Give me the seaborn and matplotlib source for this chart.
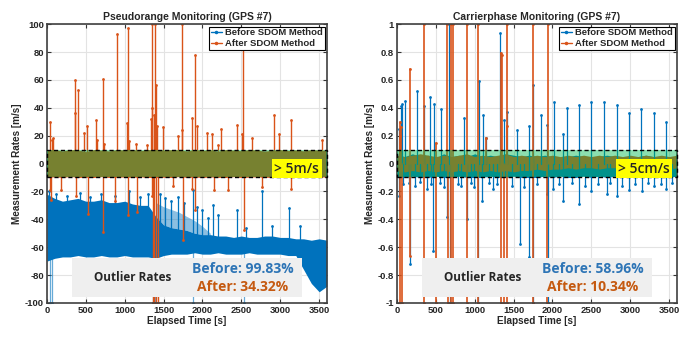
import numpy as np
import pandas as pd
import matplotlib
matplotlib.use("Agg")
import matplotlib.pyplot as plt
from matplotlib.patches import Rectangle
from matplotlib.lines import Line2D
import seaborn as sns

sns.set_style("ticks")
plt.rcParams['font.family'] = ['Liberation Sans', 'DejaVu Sans']

BLUE = '#0072BD'
ORANGE = '#D95319'
SANS2 = ['Open Sans', 'DejaVu Sans']

# ---------------- data: common time grid for dense bands ----------------
band_t = [0, 100, 200, 300, 400, 500, 600, 700, 800, 900, 1000, 1100, 1200,
          1300, 1400, 1500, 1600, 1700, 1800, 1900, 2000, 2100, 2200, 2300,
          2400, 2500, 2600, 2700, 2800, 2900, 3000, 3100, 3200, 3300, 3400,
          3500, 3600]

# ---------------- Pseudorange panel ----------------
pr_after_hi = [9.5, 10, 9, 10, 9.8, 8.5, 10, 9.6, 9, 10, 9.7, 10, 9.2, 10, 10,
               9.5, 10, 9.8, 9, 10, 9.4, 9.9, 8.8, 10, 9.6, 9.2, 10, 9.7, 8.9,
               9.5, 10, 9.3, 9.8, 9.1, 10, 9.6, 9.4]
pr_after_lo = [-10, -9.5, -10, -9.2, -10, -9.8, -10, -9.4, -10, -9.9, -9.6, -10,
               -9.5, -10, -10, -9.8, -10, -9.3, -10, -9.7, -10, -9.6, -9.9, -10,
               -9.4, -10, -9.8, -9.5, -10, -9.7, -10, -9.2, -10, -9.6, -10, -9.5,
               -9.8]
pr_before_hi = [-22, -25, -27, -26, -25, -27, -27, -26, -28, -28, -27, -29, -30,
                -30, -38, -44, -46, -47, -48, -50, -51, -51, -52, -52, -53, -52,
                -53, -53, -52, -52, -53, -53, -54, -54, -55, -54, -55]
pr_before_lo = [-70, -68, -67, -67, -66, -67, -67, -66, -67, -67, -66, -67, -67,
                -67, -68, -66, -65, -65, -65, -64, -65, -65, -64, -65, -65, -65,
                -64, -65, -65, -65, -65, -66, -66, -76, -86, -92, -88]
pr_sparse_t = [1400, 1500, 1600, 1700, 1800, 1900, 2000, 2100]
pr_sparse_lo = [-38, -44, -46, -47, -48, -50, -51, -51]
pr_sparse_hi = [-28, -31, -33, -35, -38, -41, -45, -50]

pr_before_spk_t = [30, 120, 260, 420, 560, 700, 880, 1050, 1200, 1300, 1450,
                   1520, 1600, 1680, 1760, 1877, 1929, 2000, 2070, 2134, 2200,
                   2443, 2560, 2764, 2900, 3111, 3250]
pr_before_spk_v = [-20, -22, -23, -21, -24, -22, -23, -20, -24, -22, -22, -25,
                   -27, -24, -28, -19, -31, -33, -39, -30, -37, -33, -46, -20,
                   -45, -32, -45]
pr_before_dn_t = [40, 62, 1360, 1395, 1880, 2530]
pr_before_dn_v = [-100, -100, -100, -100, -100, -100]

pr_after_up_t = [39, 60, 75, 355, 360, 403, 476, 520, 630, 645, 720, 730, 896,
                 1025, 1037, 1050, 1150, 1290, 1340, 1350, 1355, 1375, 1390,
                 1400, 1420, 1490, 1690, 1735, 1740, 1870, 1899, 1935, 2060,
                 2120, 2200, 2240, 2450, 2510, 2524, 2640, 2920, 2980, 3140,
                 3540]
pr_after_up_v = [30, 17, 18, 36, 60, 53, 22, 27, 31, 17, 61, 14, 93, 29, 97, 16,
                 14, 13, 32, 40, 100, 35, 100, 56, 27, 26, 20, 24, 100, 33, 78,
                 27, 22, 21, 13, 25, 28, 21, 84, 18, 35, 21, 31, 17]
pr_after_dn_t = [40, 55, 180, 380, 531, 724, 870, 1046, 1160, 1345, 1365, 1380,
                 1400, 1425, 1620, 1744, 1860, 1900, 2150, 2330, 2529, 2760, 3140]
pr_after_dn_v = [-19, -26, -19, -23, -36, -49, -27, -37, -35, -23, -100, -100,
                 -100, -100, -16, -55, -18, -33, -19, -19, -48, -17, -18]

# ---------------- Carrierphase panel ----------------
cp_before_hi = [0.06, 0.05, 0.07, 0.05, 0.06, 0.04, 0.07, 0.05, 0.06, 0.05,
                0.07, 0.05, 0.06, 0.05, 0.07, 0.06, 0.05, 0.06, 0.05, 0.06,
                0.05, 0.04, 0.05, 0.06, 0.05, 0.04, 0.05, 0.06, 0.05, 0.04,
                0.05, 0.05, 0.06, 0.05, 0.04, 0.05, 0.05]
cp_before_lo = [-0.10, -0.10, -0.09, -0.10, -0.10, -0.09, -0.10, -0.10, -0.09,
                -0.10, -0.10, -0.10, -0.09, -0.10, -0.10, -0.09, -0.10, -0.10,
                -0.10, -0.09, -0.10, -0.09, -0.10, -0.10, -0.09, -0.10, -0.09,
                -0.10, -0.09, -0.10, -0.10, -0.09, -0.10, -0.09, -0.10, -0.10,
                -0.09]
cp_after_hi = [0.06, 0.05, 0.06, 0.07, 0.06, 0.05, 0.06, 0.05, 0.06, 0.07, 0.05,
               0.06, 0.05, 0.06, 0.07, 0.05, 0.06, 0.05, 0.06, 0.05, 0.06, 0.05,
               0.06, 0.05, 0.06, 0.05, 0.06, 0.05, 0.06, 0.05, 0.06, 0.05, 0.06,
               0.05, 0.06, 0.05, 0.06]
cp_after_lo = [-0.05, -0.06, -0.05, -0.06, -0.05, -0.06, -0.05, -0.06, -0.05,
               -0.06, -0.05, -0.06, -0.05, -0.06, -0.05, -0.06, -0.05, -0.05,
               -0.04, -0.05, -0.04, -0.04, -0.03, -0.04, -0.03, -0.03, -0.04,
               -0.03, -0.03, -0.04, -0.03, -0.03, -0.04, -0.03, -0.03, -0.04,
               -0.03]

cp_before_up_t = [30, 50, 65, 103, 257, 347, 420, 476, 570, 669, 861, 1050,
                  1101, 1150, 1324, 1380, 1410, 1539, 1694, 1744, 1851, 1925,
                  2019, 2130, 2181, 2340, 2498, 2661, 2824, 2979, 3141, 3304,
                  3459]
cp_before_up_v = [0.25, 0.41, 0.43, 0.45, 0.52, 0.41, 0.48, 0.43, 0.39, 1.0,
                  0.33, 0.59, 0.35, 0.18, 0.94, 0.31, 0.37, 0.24, 0.27, 0.56,
                  0.35, 0.28, 0.44, 0.21, 0.40, 0.42, 0.44, 0.44, 0.42, 0.36,
                  0.39, 0.36, 0.30]
cp_before_dn_t = [26, 80, 150, 170, 230, 300, 390, 440, 463, 560, 600, 645, 680,
                  780, 830, 903, 950, 990, 1040, 1100, 1180, 1230, 1290, 1480,
                  1581, 1640, 1700, 1750, 1800, 1925, 1940, 2010, 2080, 2140,
                  2250, 2344, 2420, 2500, 2580, 2696, 2740, 2825, 2900, 2980,
                  3060, 3150, 3230, 3300, 3390, 3460, 3540]
cp_before_dn_v = [-0.23, -0.15, -0.14, -0.72, -0.16, -0.13, -0.18, -0.15, -0.63,
                  -0.14, -0.17, -0.38, -1.0, -0.15, -0.16, -0.40, -0.14, -0.17,
                  -1.0, -0.27, -0.14, -0.18, -0.15, -0.16, -0.58, -0.17, -0.67,
                  -1.0, -0.15, -0.22, -1.0, -0.18, -0.15, -0.27, -0.14, -0.29,
                  -0.16, -0.20, -0.15, -0.22, -0.14, -0.23, -0.16, -0.19, -0.15,
                  -0.20, -0.14, -0.16, -0.15, -0.18, -0.14]

cp_after_up_t = [35, 45, 55, 167, 347, 500, 650, 690, 720, 896, 1037, 1150,
                 1337, 1350, 1410, 1420, 1744, 1937]
cp_after_up_v = [0.20, 0.30, 0.26, 0.68, 1.0, 0.15, 1.0, 1.0, 1.0, 1.0, 1.0, 0.18,
                 0.79, 0.78, 1.0, 0.27, 1.0, 1.0]
cp_after_dn_t = [39, 60, 171, 347, 501, 660, 700, 720, 896, 1037, 1333, 1380,
                 1410, 1744, 1925]
cp_after_dn_v = [-1.0, -1.0, -0.66, -1.0, -1.0, -1.0, -1.0, -1.0, -1.0, -1.0,
                 -1.0, -1.0, -1.0, -1.0, -1.0]

labels = ['Before SDOM Method', 'After SDOM Method']
titles = ['Pseudorange Monitoring (GPS #7)', 'Carrierphase Monitoring (GPS #7)']
rates_before = ['Before: 99.83%', 'Before: 58.96%']
rates_after = ['After: 34.32%', 'After: 10.34%']
thresh_labels = ['> 5m/s', '> 5cm/s']
x_ticks = [0, 500, 1000, 1500, 2000, 2500, 3000, 3500]


def spikes(ax, ts, vs, base, color, lw=1.0, alpha=1.0):
    rows = []
    for i, (t, v) in enumerate(zip(ts, vs)):
        rows.append((i, t, base))
        rows.append((i, t, v))
    df = pd.DataFrame(rows, columns=['id', 't', 'v'])
    sns.lineplot(data=df, x='t', y='v', units='id', estimator=None, sort=False,
                 color=color, lw=lw, alpha=alpha, ax=ax, zorder=2, legend=False)
    tips = pd.DataFrame({'t': ts, 'v': vs})
    sns.scatterplot(data=tips, x='t', y='v', color=color, s=4, linewidth=0,
                    ax=ax, zorder=2, legend=False)


fig = plt.figure(figsize=(7, 3.4), dpi=100)
axL = fig.add_axes([0.067, 0.109, 0.4, 0.82])
axR = fig.add_axes([0.567, 0.109, 0.4, 0.82])

# ---- left ----
ax = axL
ax.fill_between(band_t, pr_before_lo, pr_before_hi, color=BLUE, lw=0, zorder=1)
ax.fill_between(pr_sparse_t, pr_sparse_lo, pr_sparse_hi,
                color=BLUE, alpha=0.45, lw=0, zorder=1)
spikes(ax, pr_before_spk_t, pr_before_spk_v, -55, BLUE, lw=0.9)
spikes(ax, pr_before_dn_t, pr_before_dn_v, -60, BLUE, lw=0.9, alpha=0.6)
ax.fill_between(band_t, pr_after_lo, pr_after_hi, color=ORANGE, lw=0, zorder=1.5)
spikes(ax, pr_after_up_t, pr_after_up_v, 0, ORANGE, lw=1.0)
spikes(ax, pr_after_dn_t, pr_after_dn_v, 0, ORANGE, lw=1.0)

# ---- right ----
ax = axR
ax.fill_between(band_t, cp_before_lo, cp_before_hi, color=BLUE, lw=0, zorder=1)
spikes(ax, cp_before_up_t, cp_before_up_v, 0, BLUE, lw=0.9)
spikes(ax, cp_before_dn_t, cp_before_dn_v, 0, BLUE, lw=0.9)
ax.fill_between(band_t, cp_after_lo, cp_after_hi, color=ORANGE, lw=0, zorder=1.5)
spikes(ax, cp_after_up_t, cp_after_up_v, 0, ORANGE, lw=1.2)
spikes(ax, cp_after_dn_t, cp_after_dn_v, 0, ORANGE, lw=1.2)

scales = [1.0, 0.01]
for k, ax in enumerate([axL, axR]):
    s = scales[k]
    ax.set_xlim(0, 3600)
    ax.set_ylim(-100 * s, 100 * s)
    ax.set_xticks(x_ticks)
    yt = [-100, -80, -60, -40, -20, 0, 20, 40, 60, 80, 100]
    ax.set_yticks([v * s for v in yt])
    if k == 0:
        ax.set_yticklabels([str(v) for v in yt])
    else:
        ax.set_yticklabels(['-1', '-0.8', '-0.6', '-0.4', '-0.2', '0', '0.2',
                            '0.4', '0.6', '0.8', '1'])
    ax.grid(True, color='#e3e3e3', lw=0.8, zorder=0)
    ax.set_axisbelow(True)
    ax.tick_params(direction='in', top=True, right=True, length=3, width=0.8,
                   labelsize=6.8, pad=2, color='#333333')
    for lab in ax.get_xticklabels() + ax.get_yticklabels():
        lab.set_fontweight('bold')
    for sp in ax.spines.values():
        sp.set_color('#404040')
        sp.set_linewidth(1.2)
    ax.set_title(titles[k], fontsize=7.5, fontweight='bold', pad=3)
    ax.set_xlabel('Elapsed Time [s]', fontsize=7.2, fontweight='bold', labelpad=1)
    ax.set_ylabel('Measurement Rates [m/s]', fontsize=7.2, fontweight='bold',
                  labelpad=2)

    # threshold box (green overlay)
    ax.add_patch(Rectangle((0, -10 * s), 3600, 20 * s, facecolor='#00BA4E',
                           alpha=0.45, edgecolor='none', zorder=3))
    ax.add_patch(Rectangle((0, -10 * s), 3600, 20 * s, facecolor='none',
                           edgecolor='black', ls=(0, (3, 2)), lw=1.0, zorder=3.5,
                           clip_on=False))
    # yellow label
    yx0 = 2898 if k == 0 else 2816
    ax.add_patch(Rectangle((yx0, -10.6 * s), 3531 - yx0, 13.6 * s,
                           facecolor='#FFFF00', edgecolor='none', zorder=4))
    ax.text((yx0 + 3531) / 2, -3.8 * s, thresh_labels[k], ha='center',
            va='center', fontsize=10, family=SANS2, fontweight='semibold',
            zorder=5)

    # outlier box
    ax.add_patch(Rectangle((320, -96 * s), 2960, 28 * s, facecolor='#EFEFEF',
                           edgecolor='none', zorder=4))
    ax.text(1105, -82 * s, 'Outlier Rates', ha='center', va='center',
            fontsize=8.5, fontweight='bold', family=SANS2, zorder=5)
    ax.text(2520, -76 * s, rates_before[k], ha='center', va='center',
            fontsize=10, fontweight='bold', color='#2E75B6',
            family=SANS2, zorder=5)
    ax.text(2520, -88.5 * s, rates_after[k], ha='center', va='center',
            fontsize=10, fontweight='bold', color='#C55A11',
            family=SANS2, zorder=5)

    handles = [Line2D([0], [0], color=BLUE, lw=1, marker='.', markersize=3),
               Line2D([0], [0], color=ORANGE, lw=1, marker='.', markersize=3)]
    leg = ax.legend(handles, labels, loc='upper right',
                    frameon=True, fancybox=False, edgecolor='black',
                    framealpha=1, borderpad=0.2, handlelength=1.2,
                    handletextpad=0.3, labelspacing=0.15,
                    borderaxespad=0.25, prop={'weight': 'bold', 'size': 6.8})
    leg.get_frame().set_linewidth(0.8)
    leg.set_zorder(10)

fig.savefig('out.png', dpi=100)
